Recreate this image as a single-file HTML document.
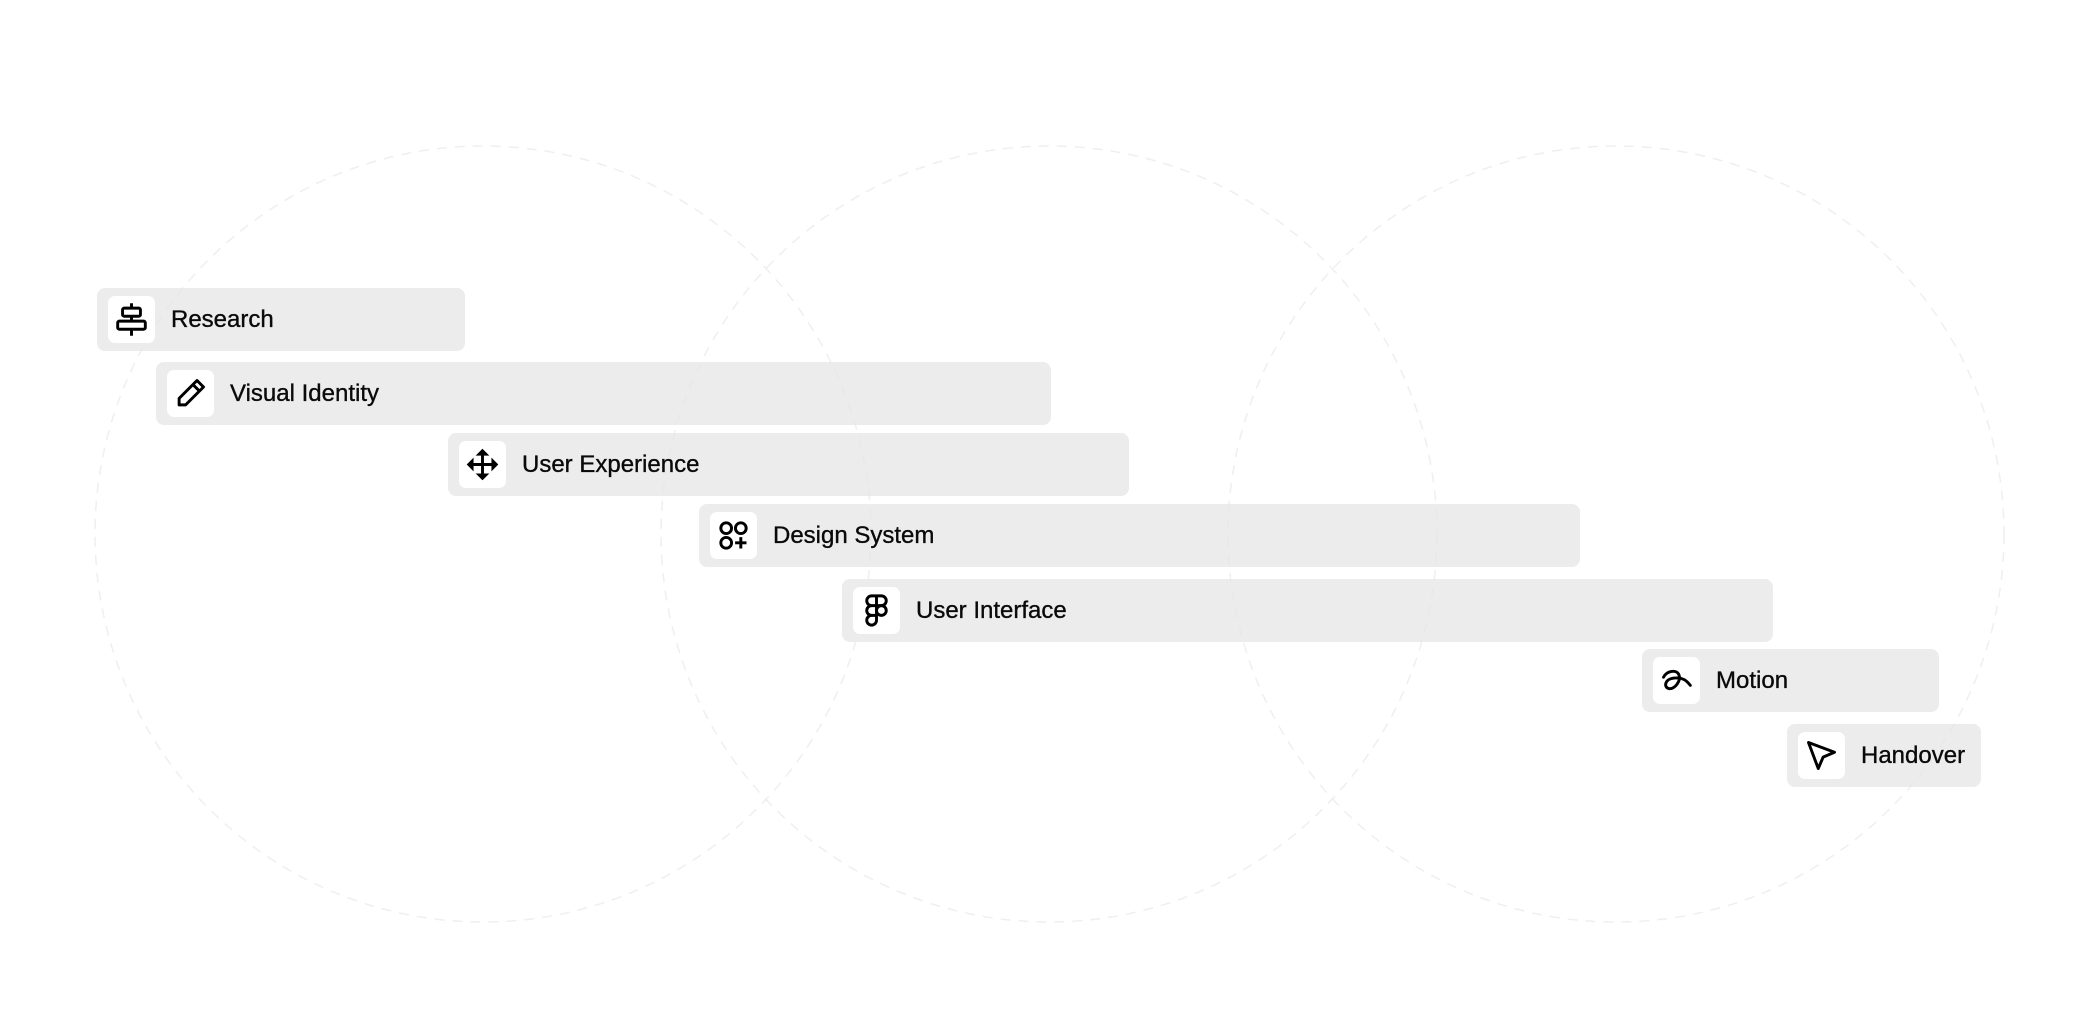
<!DOCTYPE html>
<html><head><meta charset="utf-8"><style>
html,body{margin:0;padding:0;background:#fff;}
body{width:2091px;height:1010px;position:relative;overflow:hidden;font-family:"Liberation Sans",sans-serif;}
.bar{position:absolute;background:rgba(228,228,228,0.72);border-radius:8px;height:63px;}
.ic{position:absolute;left:11px;top:8px;width:47px;height:47px;background:#fff;border-radius:7px;}
.ic svg{position:absolute;left:4px;top:4px;width:39px;height:39px;}
.t{position:absolute;left:74px;top:0;line-height:63px;font-size:24px;color:#0a0a0a;-webkit-text-stroke:0.35px #0a0a0a;}
</style></head><body>
<svg width="2091" height="1010" style="position:absolute;left:0;top:0">
<g fill="none" stroke="#efefef" stroke-width="1.5" stroke-dasharray="10 8">
<circle cx="483" cy="534" r="388"/><circle cx="1049" cy="534" r="388"/><circle cx="1616" cy="534" r="388"/>
</g></svg>

<div class="bar" style="left:97px;top:288px;width:368px"><div class="ic"><svg viewBox="0 0 24 24" fill="none" stroke="#000" stroke-width="1.8"><line x1="12" y1="2" x2="12" y2="22"/><rect x="6.5" y="5" width="11" height="5" rx="1" fill="#fff"/><rect x="3.5" y="13" width="17" height="5" rx="1" fill="#fff"/></svg></div><div class="t">Research</div></div>

<div class="bar" style="left:156px;top:362px;width:895px"><div class="ic"><svg viewBox="0 0 24 24" fill="none" stroke="#000" stroke-width="1.8" stroke-linejoin="round"><path d="M16 4l4 4L9 19H5v-4z"/><line x1="13.5" y1="6.5" x2="17.5" y2="10.5"/></svg></div><div class="t">Visual Identity</div></div>

<div class="bar" style="left:448px;top:433px;width:681px"><div class="ic"><svg viewBox="0 0 24 24" fill="#000" stroke="#000" stroke-width="1.8"><line x1="12" y1="5" x2="12" y2="19"/><line x1="5" y1="12" x2="19" y2="12"/><path d="M12 3l-3 3h6z M12 21l-3-3h6z M3 12l3-3v6z M21 12l-3-3v6z" stroke-width="1"/></svg></div><div class="t">User Experience</div></div>

<div class="bar" style="left:699px;top:504px;width:881px"><div class="ic"><svg viewBox="0 0 24 24" fill="none" stroke="#000" stroke-width="1.8"><circle cx="7.5" cy="7.5" r="3.3"/><circle cx="16.5" cy="7.5" r="3.3"/><circle cx="7.5" cy="16.5" r="3.3"/><line x1="16.5" y1="13" x2="16.5" y2="20"/><line x1="13" y1="16.5" x2="20" y2="16.5"/></svg></div><div class="t">Design System</div></div>

<div class="bar" style="left:842px;top:579px;width:931px"><div class="ic"><svg viewBox="0 0 24 24" fill="none" stroke="#000" stroke-width="1.8"><path d="M9 3h3v6H9a3 3 0 0 1 0-6z M12 3h3a3 3 0 0 1 0 6h-3z M9 9h3v6H9a3 3 0 0 1 0-6z M12 15v3a3 3 0 1 1-3-3z"/><circle cx="15" cy="12" r="3"/></svg></div><div class="t">User Interface</div></div>

<div class="bar" style="left:1642px;top:649px;width:297px"><div class="ic"><svg viewBox="0 0 24 24" fill="none" stroke="#000" stroke-width="1.8" stroke-linecap="round"><path d="M4 10c2-4 8-5 9.5-1.5s-2.5 9-6 8.5-3-6 3-6.5 8 2 10 4.5"/></svg></div><div class="t">Motion</div></div>

<div class="bar" style="left:1787px;top:724px;width:194px"><div class="ic"><svg viewBox="0 0 24 24" fill="none" stroke="#000" stroke-width="1.8" stroke-linejoin="round"><path d="M4 4l16 6-7 3-3 7z"/></svg></div><div class="t">Handover</div></div>
</body></html>
